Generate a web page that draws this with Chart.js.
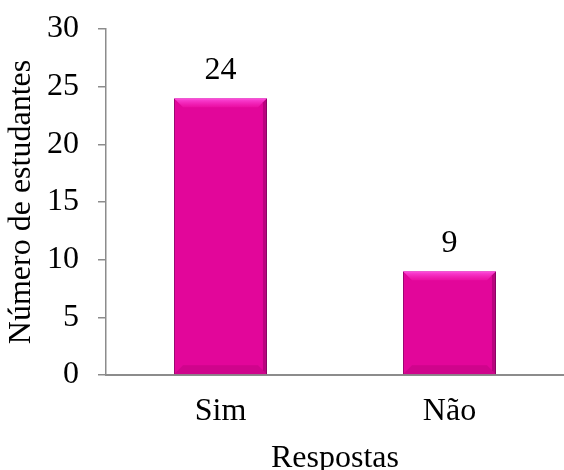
<!DOCTYPE html>
<html>
<head>
<meta charset="utf-8">
<script src="https://cdn.jsdelivr.net/npm/chart.js@4/dist/chart.umd.min.js"></script>
<style>
  html, body { margin: 0; padding: 0; background: #fff; }
  #wrap { width: 564px; height: 470px; }
</style>
</head>
<body>
<div id="wrap"><canvas id="chart"></canvas></div>
<script>
// dados
const categorias = ['Sim', 'Não'];
const estudantes = [24, 9];
const yTitulo = 'Número de estudantes';
const xTitulo = 'Respostas';

const FONTE = '"Liberation Serif", "Times New Roman", serif';
const TAM = 32;

// rótulos de valor acima das barras + leve efeito de bisel
const barExtras = {
  id: 'barExtras',
  afterDatasetsDraw(chart) {
    const ctx = chart.ctx;
    const meta = chart.getDatasetMeta(0);
    meta.data.forEach((bar, i) => {
      const left = bar.x - bar.width / 2, right = bar.x + bar.width / 2;
      const top = bar.y, bottom = bar.base;
      const b = 9;
      ctx.save();
      // topo claro
      const g = ctx.createLinearGradient(0, top, 0, top + b);
      g.addColorStop(0, 'rgba(255,80,225,0.95)');
      g.addColorStop(1, 'rgba(240,20,170,0.6)');
      ctx.fillStyle = g;
      ctx.beginPath();
      ctx.moveTo(left, top); ctx.lineTo(right, top);
      ctx.lineTo(right - b, top + b); ctx.lineTo(left + b, top + b);
      ctx.closePath(); ctx.fill();
      // lado direito escuro
      ctx.fillStyle = 'rgba(110,0,75,0.35)';
      ctx.beginPath();
      ctx.moveTo(right, top); ctx.lineTo(right, bottom);
      ctx.lineTo(right - 4, bottom - 4); ctx.lineTo(right - 4, top + 4);
      ctx.closePath(); ctx.fill();
      // base escura
      ctx.fillStyle = 'rgba(150,0,100,0.25)';
      ctx.beginPath();
      ctx.moveTo(left, bottom); ctx.lineTo(right, bottom);
      ctx.lineTo(right - b, bottom - b); ctx.lineTo(left + b, bottom - b);
      ctx.closePath(); ctx.fill();
      // valor
      ctx.fillStyle = '#000';
      ctx.font = TAM + 'px ' + FONTE;
      ctx.textAlign = 'center';
      ctx.textBaseline = 'alphabetic';
      ctx.fillText(String(estudantes[i]), bar.x, top - 19);
      ctx.restore();
    });
  }
};

new Chart(document.getElementById('chart'), {
  type: 'bar',
  data: {
    labels: categorias,
    datasets: [{
      data: estudantes,
      backgroundColor: '#e2069a',
      borderColor: '#9a0470',
      borderWidth: 1,
      barPercentage: 0.406,
      categoryPercentage: 1
    }]
  },
  options: {
    responsive: true,
    maintainAspectRatio: false,
    animation: false,
    layout: { padding: { top: 10, right: 0, bottom: 0, left: 0 } },
    plugins: { legend: { display: false }, tooltip: { enabled: false } },
    scales: {
      x: {
        grid: { display: false, drawTicks: false, tickLength: 0 },
        border: { display: true, color: '#8c8c8c', width: 2 },
        ticks: { color: '#000', font: { family: FONTE, size: TAM, lineHeight: 1 }, padding: 21 },
        title: { display: true, text: xTitulo, color: '#000', font: { family: FONTE, size: TAM, lineHeight: 0.4375 }, padding: { top: 3, bottom: 4 } }
      },
      y: {
        min: 0, max: 30,
        ticks: { stepSize: 5, color: '#000', font: { family: FONTE, size: TAM, lineHeight: 0.625 }, padding: 19 },
        grid: { drawOnChartArea: false, drawTicks: true, tickLength: 8, color: '#8c8c8c', lineWidth: 1.5 },
        border: { display: true, color: '#8c8c8c', width: 1.5 },
        title: { display: true, text: yTitulo, color: '#000', font: { family: FONTE, size: TAM, lineHeight: 0.375 }, padding: { top: 16, bottom: 0 } }
      }
    }
  },
  plugins: [barExtras]
});
</script>
</body>
</html>
